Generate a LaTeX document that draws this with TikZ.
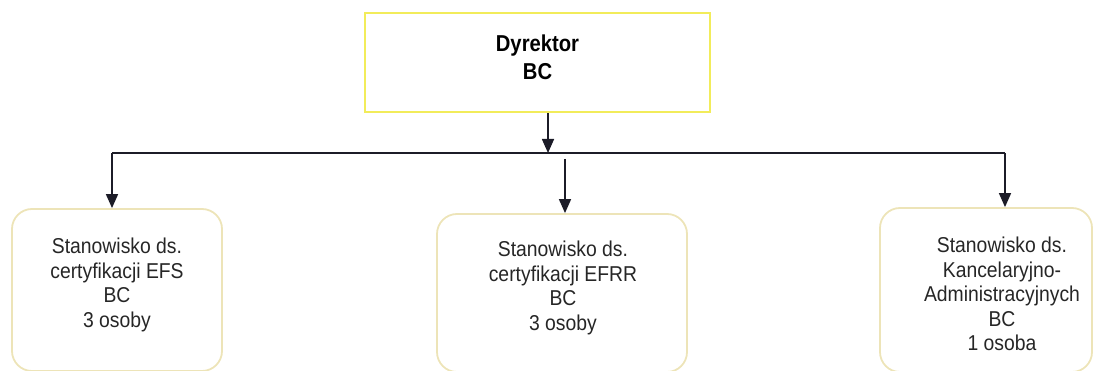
\documentclass[tikz,border=0pt]{standalone}
\usepackage{fontspec}
\setmainfont{Liberation Sans}
\newfontfamily\unitfont[FakeStretch=0.9]{Liberation Sans}
\newfontfamily\dirfont[FakeStretch=0.88]{Liberation Sans}
\usetikzlibrary{arrows.meta}
\definecolor{diryellow}{HTML}{F2EC5A}
\definecolor{boxbeige}{HTML}{EDE4B8}
\definecolor{linedark}{HTML}{1C1C28}
\begin{document}
\begin{tikzpicture}[x=1pt,y=-1pt,
  dirbox/.style={draw=diryellow,line width=2.6pt,rectangle,inner sep=0pt},
  unitbox/.style={draw=boxbeige,line width=1.8pt,rectangle,rounded corners=20pt,inner sep=0pt},
  unittext/.style={align=center,font=\unitfont\fontsize{21.5}{24.6}\selectfont,inner sep=0pt,text=black!85},
  conn/.style={draw=linedark,line width=1.6pt},
  arr/.style={conn,-{Triangle[length=14pt,width=12pt]}}]
\useasboundingbox (0,0) rectangle (1098,371);
% director
\node[dirbox,minimum width=345pt,minimum height=99pt] (dir) at (537.5,62.5) {};
\node[align=center,font=\dirfont\bfseries\fontsize{23}{28.5}\selectfont,inner sep=0pt] (dirtext) at (537.5,57.5) {Dyrektor\\BC};
% units
\node[unitbox,minimum width=210pt,minimum height=162pt] (u1) at (117,290) {};
\node[unitbox,minimum width=250pt,minimum height=158pt] (u2) at (562,293) {};
\node[unitbox,minimum width=212pt,minimum height=164pt] (u3) at (986,290) {};
\node[unittext] (t1) at (117,285) {Stanowisko ds.\\certyfikacji EFS\\BC\\3 osoby};
\node[unittext] (t2) at (563,288) {Stanowisko ds.\\certyfikacji EFRR\\BC\\3 osoby};
\node[unittext] (t3) at (1002,294) {Stanowisko ds.\\Kancelaryjno-\\Administracyjnych\\BC\\1 osoba};
% connectors
\coordinate (hl) at (112,153);
\coordinate (hr) at (1005,153);
\coordinate (hm) at (548,153);
\coordinate (m2) at (565,159);
\draw[arr] (dir.south -| hm) -- (hm);
\draw[conn] (hl) -- (hr);
\draw[arr] (hl) -- (hl |- u1.north);
\draw[arr] (m2) -- (m2 |- u2.north);
\draw[arr] (hr) -- (hr |- u3.north);
\end{tikzpicture}
\end{document}
